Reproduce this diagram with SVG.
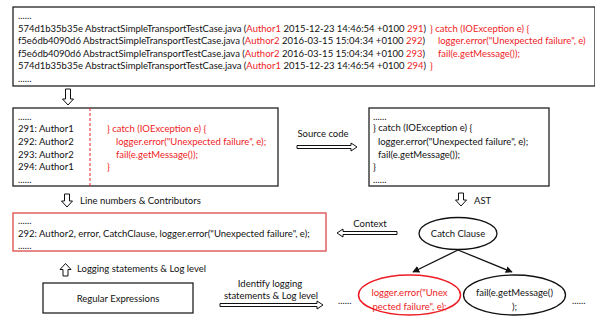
<svg xmlns="http://www.w3.org/2000/svg" width="595" height="325" viewBox="0 0 595 325">
<style>
text{font-family:Lato,"Liberation Sans",Arial,sans-serif;font-size:9.5px;fill:#111}
.r{fill:#ee1c25}
.box{fill:#fff;stroke:#222;stroke-width:1.3}
.harrow{fill:#fff;stroke:#111;stroke-width:1}
.c{text-anchor:middle}
</style>
<defs>
<marker id="ah" viewBox="0 0 10 10" refX="9" refY="5" markerWidth="7" markerHeight="7" orient="auto" markerUnits="userSpaceOnUse">
<path d="M0,0 L10,5 L0,10 z" fill="#111"/>
</marker>
</defs>
<rect width="595" height="325" fill="#fff"/>

<g id="blame">
<rect class="box" x="13" y="7" width="582" height="79"/>
<text x="18" y="19">......</text>
<text x="18" y="31.5" textLength="408" lengthAdjust="spacingAndGlyphs">574d1b35b35e AbstractSimpleTransportTestCase.java (<tspan class="r">Author1</tspan> 2015-12-23 14:46:54 +0100 <tspan class="r">291</tspan>)</text>
<text x="430" y="31.5" class="r">} catch (IOException e) {</text>
<text x="18" y="44" textLength="407" lengthAdjust="spacingAndGlyphs">f5e6db4090d6 AbstractSimpleTransportTestCase.java (<tspan class="r">Author2</tspan> 2016-03-15 15:04:34 +0100 <tspan class="r">292</tspan>)</text>
<text x="438" y="44" class="r">logger.error("Unexpected failure", e)</text>
<text x="18" y="56.5" textLength="407" lengthAdjust="spacingAndGlyphs">f5e6db4090d6 AbstractSimpleTransportTestCase.java (<tspan class="r">Author2</tspan> 2016-03-15 15:04:34 +0100 <tspan class="r">293</tspan>)</text>
<text x="438" y="56.5" class="r">fail(e.getMessage());</text>
<text x="18" y="68.5" textLength="408" lengthAdjust="spacingAndGlyphs">574d1b35b35e AbstractSimpleTransportTestCase.java (<tspan class="r">Author1</tspan> 2015-12-23 14:46:54 +0100 <tspan class="r">294</tspan>)</text>
<text x="430" y="68.5" class="r">}</text>
<text x="18" y="82">......</text>
</g>

<g id="lines">
<rect class="box" x="13" y="108" width="265" height="78"/>
<line x1="90" y1="108" x2="90" y2="186" stroke="#ee1c25" stroke-width="1" stroke-dasharray="3,2"/>
<text x="18" y="120">......</text>
<text x="18" y="131.5">291: Author1</text>
<text x="18" y="145">292: Author2</text>
<text x="18" y="157.5">293: Author2</text>
<text x="18" y="170">294: Author1</text>
<text x="18" y="183">......</text>
<text x="107" y="131.5" class="r">} catch (IOException e) {</text>
<text x="116" y="145" class="r">logger.error("Unexpected failure", e);</text>
<text x="116" y="157.5" class="r">fail(e.getMessage());</text>
<text x="107" y="170" class="r">}</text>
</g>

<g id="source">
<rect class="box" x="369" y="108" width="180" height="78"/>
<text x="373" y="120">......</text>
<text x="373" y="131">} catch (IOException e) {</text>
<text x="378" y="145">logger.error("Unexpected failure", e);</text>
<text x="378" y="157.5">fail(e.getMessage());</text>
<text x="373" y="170">}</text>
<text x="373" y="183">......</text>
</g>

<g id="result">
<rect x="13" y="213" width="313" height="38" fill="#fff" stroke="#e06060" stroke-width="1.5"/>
<text x="18" y="224">......</text>
<text x="18" y="236.5">292: Author2, error, CatchClause, logger.error("Unexpected failure", e);</text>
<text x="18" y="249">......</text>
</g>

<g id="regex">
<rect class="box" x="43" y="283" width="150" height="30"/>
<text x="118" y="301.5" class="c">Regular Expressions</text>
</g>

<g id="catch">
<ellipse cx="458" cy="233.5" rx="39" ry="16" fill="#fff" stroke="#111" stroke-width="1.3"/>
<text x="458" y="237" class="c">Catch Clause</text>
</g>

<g id="logger">
<ellipse cx="409.5" cy="295" rx="51" ry="20" fill="#fff" stroke="#ee1c25" stroke-width="1.5"/>
<text x="409.5" y="296" class="c r">logger.error("Unex</text>
<text x="409.5" y="309.5" class="c r">pected failure", e);</text>
</g>

<g id="fail">
<ellipse cx="514.5" cy="295" rx="51" ry="20" fill="#fff" stroke="#111" stroke-width="1.3"/>
<text x="514.5" y="296" class="c">fail(e.getMessage()</text>
<text x="514.5" y="309.5" class="c">);</text>
</g>

<g id="dots">
<text x="338" y="304">......</text>
<text x="572" y="304">......</text>
</g>

<g id="connectors">
<polygon class="harrow" points="65.5,89 70.5,89 70.5,99 73.5,99 68,105 62.5,99 65.5,99"/>
<polygon class="harrow" points="297,145.5 351,145.5 351,143 357,147 351,151 351,148.5 297,148.5"/>
<text x="323" y="137" class="c">Source code</text>
<polygon class="harrow" points="458.5,193 463.5,193 463.5,200 466.5,200 461,206 455.5,200 458.5,200"/>
<text x="474" y="204">AST</text>
<polygon class="harrow" points="64.5,194 69.5,194 69.5,201 72.5,201 67,207 61.5,201 64.5,201"/>
<text x="80" y="204">Line numbers &amp; Contributors</text>
<polygon class="harrow" points="397,231.5 343,231.5 343,229 337,233 343,237 343,234.5 397,234.5"/>
<text x="370" y="226.5" class="c">Context</text>
<polygon class="harrow" points="63,276 68,276 68,269.5 71,269.5 65.5,263.5 60,269.5 63,269.5"/>
<text x="77" y="271.5">Logging statements &amp; Log level</text>
<polygon class="harrow" points="220,303.5 317,303.5 317,301 323,305 317,309 317,306.5 220,306.5"/>
<text x="270" y="287" class="c">Identify logging</text>
<text x="271" y="299" class="c">statements &amp; Log level</text>
<line x1="458" y1="250" x2="413" y2="272" stroke="#111" stroke-width="1.3" marker-end="url(#ah)"/>
<line x1="458" y1="250" x2="512" y2="272" stroke="#111" stroke-width="1.3" marker-end="url(#ah)"/>
</g>
</svg>
